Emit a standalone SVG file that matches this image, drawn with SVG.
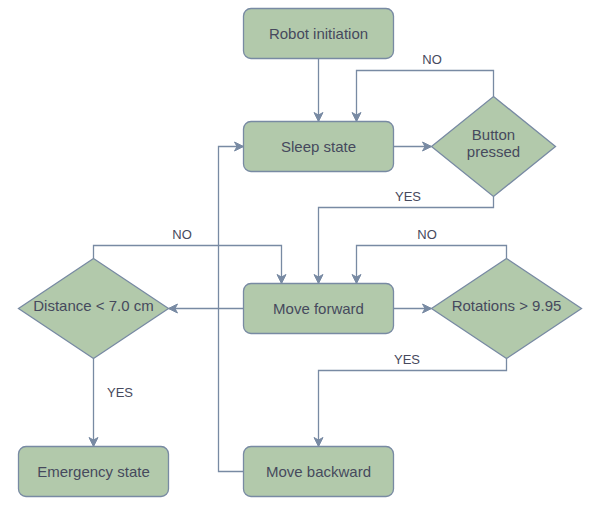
<svg xmlns="http://www.w3.org/2000/svg" width="598" height="523" viewBox="0 0 598 523">
<defs>
<marker id="arr" markerUnits="userSpaceOnUse" markerWidth="12" markerHeight="12" viewBox="-11 -6 12 12" refX="0" refY="0" orient="auto">
<path d="M-9,-4.5 L0,0 L-9,4.5 L-6.5,0 Z" fill="#788AA3" stroke="#788AA3" stroke-width="1"/>
</marker>
<style>
.box{fill:#B2C9AB;stroke:#788AA3;stroke-width:1.3}
.t{font-family:"Liberation Sans",Arial,sans-serif;font-size:15px;fill:#46495D;text-anchor:middle}
.lbl{font-family:"Liberation Sans",Arial,sans-serif;font-size:13px;fill:#46495D;text-anchor:middle}
.c{fill:none;stroke:#788AA3;stroke-width:1.3}
.ca{fill:none;stroke:#788AA3;stroke-width:1.3;marker-end:url(#arr)}
</style>
</defs>
<rect width="598" height="523" fill="#ffffff"/>
<g id="connectors">
<path class="ca" d="M318.5,58.5 L318.5,121.5"/>
<path class="ca" d="M393.5,146.5 L431.5,146.5"/>
<path class="ca" d="M493.5,96.5 L493.5,70.5 L356.5,70.5 L356.5,121.5"/>
<path class="ca" d="M493.5,196.5 L493.5,207.5 L318.5,207.5 L318.5,283.5"/>
<path class="ca" d="M243.5,308.5 L168.5,308.5"/>
<path class="ca" d="M393.5,308.5 L431.5,308.5"/>
<path class="ca" d="M93.5,258.5 L93.5,245.5 L281.5,245.5 L281.5,283.5"/>
<path class="ca" d="M506.5,258.5 L506.5,245.5 L356.5,245.5 L356.5,283.5"/>
<path class="ca" d="M506.5,358.5 L506.5,370.5 L318.5,370.5 L318.5,446.5"/>
<path class="ca" d="M93.5,358.5 L93.5,446.5"/>
<path class="ca" d="M243.5,471.5 L218.5,471.5 L218.5,146.5 L243.5,146.5"/>
<text class="lbl" x="432" y="64">NO</text>
<text class="lbl" x="408" y="201">YES</text>
<text class="lbl" x="182" y="239">NO</text>
<text class="lbl" x="427" y="239">NO</text>
<text class="lbl" x="407" y="363.5">YES</text>
<text class="lbl" x="120" y="397">YES</text>
</g>
<g id="robot-initiation">
<rect class="box" x="243.5" y="8.5" width="150" height="50" rx="7.5"/>
<text class="t" x="318.5" y="39">Robot initiation</text>
</g>
<g id="sleep-state">
<rect class="box" x="243.5" y="121.5" width="150" height="50" rx="7.5"/>
<text class="t" x="318.5" y="152">Sleep state</text>
</g>
<g id="button-pressed">
<polygon class="box" points="493.5,96.5 555.5,146.5 493.5,196.5 431.5,146.5"/>
<text class="t" x="493.5" y="140">Button</text>
<text class="t" x="493.5" y="157">pressed</text>
</g>
<g id="move-forward">
<rect class="box" x="243.5" y="283.5" width="150" height="50" rx="7.5"/>
<text class="t" x="318.5" y="314">Move forward</text>
</g>
<g id="distance">
<polygon class="box" points="93.5,258.5 168.5,308.5 93.5,358.5 18.5,308.5"/>
<text class="t" x="93.5" y="311">Distance &lt; 7.0 cm</text>
</g>
<g id="rotations">
<polygon class="box" points="506.5,258.5 581.5,308.5 506.5,358.5 431.5,308.5"/>
<text class="t" x="506.5" y="311">Rotations &gt; 9.95</text>
</g>
<g id="emergency-state">
<rect class="box" x="18.5" y="446.5" width="150" height="50" rx="7.5"/>
<text class="t" x="93.5" y="477">Emergency state</text>
</g>
<g id="move-backward">
<rect class="box" x="243.5" y="446.5" width="150" height="50" rx="7.5"/>
<text class="t" x="318.5" y="477">Move backward</text>
</g>
</svg>
